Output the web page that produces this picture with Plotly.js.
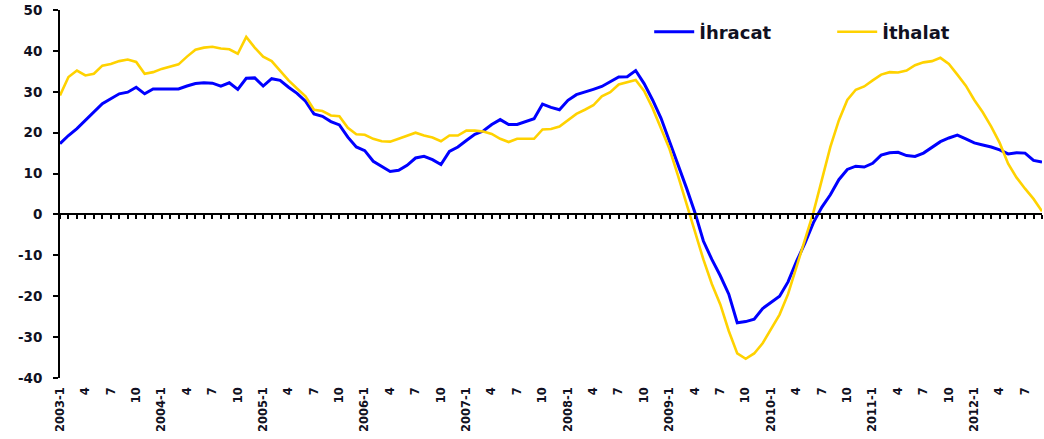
<!DOCTYPE html>
<html>
<head>
<meta charset="utf-8">
<script src="https://cdn.plot.ly/plotly-3.0.1.min.js"></script>
<style>html,body{margin:0;padding:0;background:#fff;}#chart{width:1044px;height:439px;}</style>
</head>
<body>
<div id="chart"></div>
<script>
// Months 2003-1 .. 2012-9
const years = [2003, 2004, 2005, 2006, 2007, 2008, 2009, 2010, 2011, 2012];
const months = [];
years.forEach(function (y) {
  for (let m = 1; m <= 12; m++) {
    if (y === 2012 && m > 9) break;
    months.push(y + "-" + m);
  }
});

const ihracat = [
  17.3, 19.3, 21.0, 23.0, 25.0, 27.1, 28.3, 29.5, 29.9, 31.1, 29.5, 30.7,
  30.7, 30.7, 30.7, 31.4, 32.0, 32.2, 32.1, 31.4, 32.2, 30.6, 33.3, 33.4,
  31.4, 33.2, 32.8, 31.1, 29.6, 27.7, 24.6, 24.0, 22.7, 21.9, 18.9, 16.5,
  15.6, 13.0, 11.8, 10.5, 10.8, 12.0, 13.8, 14.2, 13.4, 12.2, 15.4, 16.5,
  18.1, 19.6, 20.4, 22.0, 23.2, 22.0, 22.0, 22.7, 23.4, 27.0, 26.2, 25.6,
  27.9, 29.3, 29.9, 30.6, 31.3, 32.4, 33.6, 33.7, 35.2, 32.0, 28.0, 23.5,
  18.0, 12.5, 6.5, 0.5, -6.5, -11.0, -15.0, -19.5, -26.5, -26.2, -25.6, -23.0,
  -21.5, -20.0, -16.5, -11.5, -7.0, -2.0, 1.8, 4.8, 8.5, 11.0, 11.8, 11.6,
  12.5, 14.5, 15.1, 15.2, 14.4, 14.2, 15.0, 16.5, 17.8, 18.7, 19.4, 18.5,
  17.5, 17.0, 16.5, 15.8, 14.8, 15.1, 15.0, 13.2, 12.8
];

const ithalat = [
  29.1, 33.6, 35.2, 34.0, 34.4, 36.4, 36.8, 37.5, 37.9, 37.3, 34.4, 34.8,
  35.6, 36.2, 36.7, 38.6, 40.3, 40.8, 41.0, 40.6, 40.4, 39.3, 43.4, 40.8,
  38.6, 37.5, 35.2, 32.8, 30.8, 28.9, 25.6, 25.3, 24.2, 24.0, 21.2, 19.6,
  19.5, 18.5, 17.9, 17.8, 18.5, 19.2, 20.0, 19.3, 18.8, 17.9, 19.3, 19.3,
  20.5, 20.5, 20.3, 19.7, 18.5, 17.7, 18.5, 18.5, 18.5, 20.8, 20.9, 21.5,
  23.1, 24.6, 25.6, 26.7, 28.9, 29.9, 31.8, 32.4, 32.9, 30.2, 26.0, 21.0,
  16.0, 9.5, 2.5, -4.5, -11.0, -17.0, -22.0, -28.5, -34.0, -35.3, -34.0, -31.5,
  -28.0, -24.5, -19.5, -13.0, -6.0, 0.5, 8.5, 16.5, 23.0, 28.0, 30.5, 31.3,
  32.8, 34.2, 34.8, 34.7, 35.2, 36.5, 37.2, 37.5, 38.3, 36.8, 34.2, 31.5,
  28.0, 25.0, 21.5, 17.5, 12.4, 9.0, 6.3, 3.8, 0.8
];

const tickLabels = [
  "2003-1", "4", "7", "10", "2004-1", "4", "7", "10", "2005-1", "4", "7", "10",
  "2006-1", "4", "7", "10", "2007-1", "4", "7", "10", "2008-1", "4", "7", "10",
  "2009-1", "4", "7", "10", "2010-1", "4", "7", "10", "2011-1", "4", "7", "10",
  "2012-1", "4", "7"
];
const yTicks = [-40, -30, -20, -10, 0, 10, 20, 30, 40, 50];
const yTickText = ["-40", "-30", "-20", "-10", "0", "10", "20", "30", "40", "50"];

const xIdx = months.map(function (_, i) { return i; });
const tickPos = tickLabels.map(function (_, i) { return i * 3; });

const traces = [
  { x: xIdx, y: ihracat, name: "İhracat", type: "scatter", mode: "lines",
    line: { color: "#0000FF", width: 3 }, cliponaxis: false },
  { x: xIdx, y: ithalat, name: "İthalat", type: "scatter", mode: "lines",
    line: { color: "#FFD200", width: 2.6 }, cliponaxis: false }
];

const fam = "'DejaVu Sans', Verdana, sans-serif";

const layout = {
  width: 1044, height: 439,
  margin: { l: 60, r: 2, t: 10, b: 61 },
  paper_bgcolor: "#ffffff", plot_bgcolor: "#ffffff",
  showlegend: true,
  legend: {
    orientation: "h", x: 0.6, xanchor: "left", y: 0.94, yanchor: "middle",
    font: { family: fam, size: 18, color: "#111122", weight: "bold" },
    itemwidth: 40, entrywidth: 128, bgcolor: "rgba(0,0,0,0)"
  },
  xaxis: {
    type: "linear", range: [0, 116], showgrid: false, zeroline: false,
    showline: false, ticks: "", tickmode: "array", tickvals: tickPos, ticktext: tickLabels,
    tickangle: -90, ticklabelstandoff: 6,
    tickfont: { family: fam, size: 11.5, color: "#111122", weight: "bold" },
    fixedrange: true
  },
  xaxis2: {
    overlaying: "x", anchor: "free", position: 40 / 90, side: "bottom",
    type: "linear", range: [0, 116], showgrid: false, zeroline: false,
    showline: true, linecolor: "#000", linewidth: 2,
    ticks: "outside", ticklen: 4, tickwidth: 2, tickcolor: "#000",
    tickmode: "linear", tick0: 0, dtick: 1, showticklabels: false
  },
  yaxis: {
    range: [-40, 50], showgrid: false, zeroline: false,
    showline: true, linecolor: "#000", linewidth: 2,
    ticks: "outside", ticklen: 5, tickwidth: 2, tickcolor: "#000",
    tickmode: "array", tickvals: yTicks, ticktext: yTickText, ticklabelstandoff: 8,
    tickfont: { family: fam, size: 13.5, color: "#111122", weight: "bold" }
  }
};

// invisible helper trace so the zero-line tick axis is drawn
traces.push({ x: [0, 116], y: [0, 0], xaxis: "x2", yaxis: "y", mode: "lines",
  line: { width: 0, color: "rgba(0,0,0,0)" }, showlegend: false, hoverinfo: "skip" });

Plotly.newPlot("chart", traces, layout, { displayModeBar: false, staticPlot: true });
</script>
</body>
</html>
